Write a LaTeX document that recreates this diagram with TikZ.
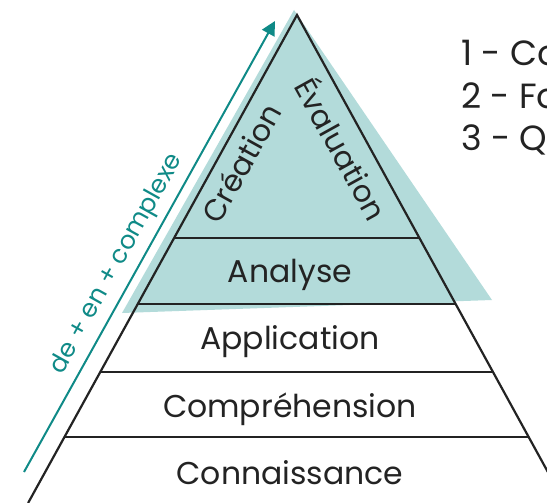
\documentclass[tikz,border=0pt]{standalone}
\usepackage{fontspec}
\setmainfont{Poppins}
\usetikzlibrary{arrows.meta}
\definecolor{tealshade}{HTML}{B3DBDA}
\definecolor{tealdark}{HTML}{0F8A87}
\definecolor{inkgray}{HTML}{232323}
\begin{document}
\begin{tikzpicture}[x=1pt,y=-1pt,
  tierline/.style={draw=inkgray,line width=2.2pt},
  tierlabel/.style={text=inkgray,font=\fontsize{31.5}{36}\selectfont,inner sep=0pt},
  rotlabel/.style={text=inkgray,font=\fontsize{30}{34}\selectfont,inner sep=0pt},
  sidelabel/.style={text=inkgray,font=\fontsize{35}{40}\selectfont,inner sep=0pt,anchor=west},
  arrowlabel/.style={text=tealdark,font=\fontsize{25}{30}\selectfont,inner sep=0pt}]
\clip (0,0) rectangle (547,503);
% vertices
\coordinate (apex) at (297,15);
\coordinate (bl) at (28.1,503);
\coordinate (br) at (564.9,503);
\coordinate (l1) at (174.1,238); \coordinate (r1) at (419.4,238);
\coordinate (l2) at (137.8,304); \coordinate (r2) at (455.7,304);
\coordinate (l3) at (100.3,372); \coordinate (r3) at (493.0,372);
\coordinate (l4) at (64.5,437);  \coordinate (r4) at (528.7,437);
% shadow
\coordinate (sa) at (294,10);
\coordinate (sl) at (122,313);
\coordinate (sr) at (492,300);
\fill[tealshade] (sa) -- (sl) -- (sr) -- cycle;
\fill[tealshade] (apex) -- (l2) -- (r2) -- cycle;
% pyramid
\draw[tierline,line join=miter] (bl) -- (apex) -- (br);
\draw[tierline] (l1) -- (r1);
\draw[tierline] (l2) -- (r2);
\draw[tierline] (l3) -- (r3);
\draw[tierline] (l4) -- (r4);
% labels
\node[tierlabel] (conn) at (290,473) {Connaissance};
\node[tierlabel] (comp) at (290,409) {Compréhension};
\node[tierlabel] (appl) at (290,342) {Application};
\node[tierlabel] (anal) at (290,275) {Analyse};
\node[rotlabel,rotate=61] (crea) at (241,163) {Création};
\node[rotlabel,rotate=-61] (eval) at (343,148) {Évaluation};
% arrow
\coordinate (atail) at (24,472);
\coordinate (ahead) at (275,21);
\draw[tealdark,line width=2pt,-{Triangle[length=14pt,width=14pt]}] (atail) -- (ahead);
\node[arrowlabel,rotate=60.9] (alab) at (117,264) {de + en + complexe};
% side list
\node[sidelabel] (s1) at (461,53) {1 - Co};
\node[sidelabel] (s2) at (461,96) {2 - Fo};
\node[sidelabel] (s3) at (461,140) {3 - Q};
\end{tikzpicture}
\end{document}
